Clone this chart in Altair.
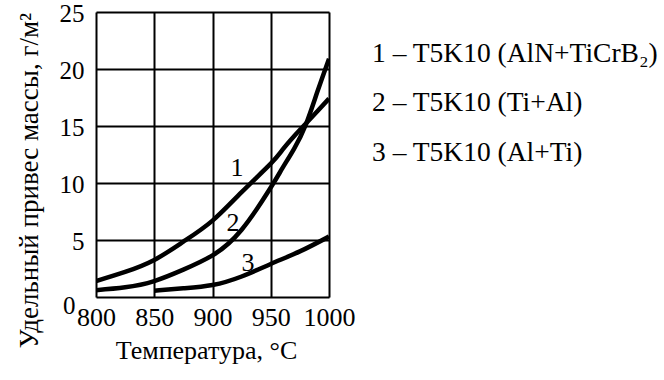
import altair as alt
import pandas as pd

# Temperatures (°C) and series values (г/м²)
temps1 = [800, 825, 850, 875, 900, 925, 950, 960, 970, 980, 990, 1000]
s1 = [1.4, 2.2, 3.25, 4.85, 6.7, 9.2, 11.7, 12.9, 14.1, 15.2, 16.3, 17.4]
temps2 = [800, 825, 850, 875, 900, 925, 950, 960, 970, 980, 990, 1000]
s2 = [0.6, 0.85, 1.4, 2.4, 3.65, 5.9, 9.6, 11.3, 13.0, 15.1, 18.0, 20.9]
temps3 = [850, 875, 900, 925, 950, 975, 1000]
s3 = [0.55, 0.76, 1.05, 1.8, 2.9, 4.0, 5.3]

# Curve number labels
lab_text = ["1", "2", "3"]
lab_x = [921, 917.6, 930.5]
lab_y = [11.3, 6.5, 3.0]

legend_lines = ["1 – T5K10 (AlN+TiCrB₂)", "2 – T5K10 (Ti+Al)", "3 – T5K10 (Al+Ti)"]

x_ticks = [800, 850, 900, 950, 1000]
y_ticks = [0, 5, 10, 15, 20, 25]

FONT = "Liberation Serif, Times New Roman, Tinos, DejaVu Serif, serif"

rows = []
for t, v in zip(temps1, s1):
    rows.append({"T": t, "v": v, "s": "1"})
for t, v in zip(temps2, s2):
    rows.append({"T": t, "v": v, "s": "2"})
for t, v in zip(temps3, s3):
    rows.append({"T": t, "v": v, "s": "3"})
df = pd.DataFrame(rows)

labels_df = pd.DataFrame({"t": lab_text, "x": lab_x, "y": lab_y})

xscale = alt.Scale(domain=[800, 1000], nice=False, zero=False)
yscale = alt.Scale(domain=[0, 25], nice=False)

xaxis = alt.Axis(
    values=x_ticks, format="d", labelOverlap=False, labelFlush=False,
    title="Температура, °C",
    grid=True, ticks=False, domain=False,
    labelFont=FONT, labelFontSize=26, labelColor="black", labelPadding=7,
    titleFont=FONT, titleFontSize=26, titleFontWeight="normal", titleColor="black",
    titleX=110, titleY=53, titleBaseline="middle", titleAlign="center",
    gridColor="black", gridWidth=2, gridOpacity=1,
)
yaxis = alt.Axis(
    values=y_ticks, title="Удельный привес массы, г/м²", labelOverlap=False,
    labelFlush=False,
    grid=True, ticks=False, domain=False,
    labelFont=FONT, labelFontSize=25, labelColor="black",
    labelPadding={"condition": {"test": "datum.value === 0", "value": 21}, "value": 12},
    labelOffset={"condition": {"test": "datum.value === 0", "value": 8}, "value": 1},
    titleFont=FONT, titleFontSize=27, titleFontWeight="normal", titleColor="black",
    titleX=-67, titleY=168, titleBaseline="middle", titleAlign="center", titleAngle=270,
    gridColor="black", gridWidth=2, gridOpacity=1,
)

lines = alt.Chart(df).mark_line(
    color="black", strokeWidth=4.5, interpolate="natural", clip=True
).encode(
    x=alt.X("T:Q", scale=xscale, axis=xaxis),
    y=alt.Y("v:Q", scale=yscale, axis=yaxis),
    detail="s:N",
)

nums = alt.Chart(labels_df).mark_text(
    font=FONT, fontSize=26, color="black", align="center", baseline="middle"
).encode(
    x=alt.X("x:Q", scale=xscale),
    y=alt.Y("y:Q", scale=yscale),
    text="t:N",
)

legend_y = [42, 91, 141]
legend_layers = []
for txt, yy in zip(legend_lines, legend_y):
    legend_layers.append(
        alt.Chart(pd.DataFrame({"t": [txt]})).mark_text(
            font=FONT, fontSize=27.5, color="black", align="left", baseline="middle"
        ).encode(x=alt.value(276), y=alt.value(yy), text="t:N")
    )

chart = alt.layer(lines, nums, *legend_layers).properties(
    width=233, height=285,
    autosize=alt.AutoSizeParams(type="none"),
    padding={"left": 96, "top": 12, "right": 335, "bottom": 83},
).configure_view(stroke="black", strokeWidth=2.5).configure(background="white")

chart.save("out.html", embed_options={"renderer": "svg", "actions": False})
